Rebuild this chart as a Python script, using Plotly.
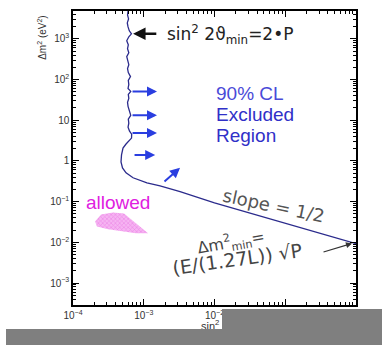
import numpy as np
import plotly.graph_objects as go

# Exclusion contour (sin^2 2theta, delta m^2 in eV^2)
sin2 = [6.00e-4, 5.90e-4, 6.10e-4, 5.85e-4, 6.00e-4, 6.25e-4, 6.70e-4, 6.15e-4, 5.75e-4,
        6.05e-4, 5.90e-4, 6.15e-4, 5.75e-4, 6.00e-4, 6.15e-4, 5.90e-4, 6.05e-4, 6.50e-4,
        6.05e-4, 6.15e-4, 6.00e-4, 6.55e-4, 6.05e-4, 6.15e-4, 5.90e-4, 6.00e-4, 6.30e-4,
        6.55e-4, 6.05e-4, 6.15e-4, 6.00e-4, 6.30e-4, 6.75e-4, 6.72e-4, 5.62e-4, 5.09e-4,
        4.85e-4, 4.77e-4, 5.01e-4, 5.62e-4, 7.06e-4, 1.11e-3, 1.70e-3, 3.26e-3, 1.0e-2,
        2.3e-2, 0.10, 0.312, 1.0]
dm2 = [4820, 3850, 3080, 2455, 1960, 1570, 1325, 1120, 894,
       714, 570, 456, 364, 291, 232, 185, 148, 118,
       94.6, 75.5, 60.3, 51.0, 43.1, 34.4, 27.5, 21.9, 17.5,
       13.2, 10.6, 8.45, 6.75, 5.39, 4.56, 3.64, 2.60, 2.07,
       1.40, 0.946, 0.675, 0.509, 0.385, 0.290, 0.245, 0.175, 0.093,
       0.0613, 0.0294, 0.01665, 0.0093]

# Allowed island
allowed_sin2 = [2.05e-4, 2.49e-4, 3.68e-4, 5.26e-4, 1.15e-3, 7.78e-4, 3.13e-4, 2.18e-4, 2.05e-4]
allowed_dm2 = [0.0325, 0.0482, 0.054, 0.051, 0.0166, 0.0166, 0.0208, 0.0245, 0.0325]

# Blue "excluded" arrows: (x_tail, y_tail, x_head, y_head)
excl_arrows = [
    (6.61e-4, 51.0, 1.54e-3, 51.0),
    (6.61e-4, 13.2, 1.54e-3, 13.2),
    (6.61e-4, 4.82, 1.54e-3, 4.82),
    (7.06e-4, 1.40, 1.45e-3, 1.40),
    (1.87e-3, 0.290, 3.26e-3, 0.675),
]

xtick_vals = [1e-4, 1e-3, 1e-2, 1e-1, 1]
xtick_text = ["10<sup>−4</sup>", "10<sup>−3</sup>", "10<sup>−2</sup>", "10<sup>−1</sup>", "1"]
ytick_vals = [1e-3, 1e-2, 1e-1, 1, 10, 100, 1000]
ytick_text = ["10<sup>−3</sup>", "10<sup>−2</sup>", "10<sup>−1</sup>", "1", "10",
              "10<sup>2</sup>", "10<sup>3</sup>"]

W, H = 382, 345
L, R, T, B = 73, 26, 9, 40


def paper(px, py):
    return (px - L) / (W - L - R), (H - B - py) / (H - T - B)


def minor_vals(lo, hi):
    return [m * 10.0 ** d for d in range(lo, hi) for m in range(2, 10)]


fig = go.Figure()

fig.add_trace(go.Scatter(
    x=allowed_sin2, y=allowed_dm2, mode="lines", fill="toself",
    fillcolor="#f3a6ee",
    fillpattern=dict(shape="x", fgcolor="#e258dc", bgcolor="#f6b4f2", size=3, solidity=0.35),
    line=dict(width=0), hoverinfo="skip", showlegend=False))

fig.add_trace(go.Scatter(
    x=sin2, y=dm2, mode="lines", line=dict(color="#2b2b8c", width=1.3),
    showlegend=False, hoverinfo="skip"))

font_main = "Liberation Sans, Arial, sans-serif"
font_hand = "DejaVu Sans, sans-serif"
ann = []

for xt, yt, xh, yh in excl_arrows:
    ann.append(dict(x=np.log10(xh), y=np.log10(yh), ax=np.log10(xt), ay=np.log10(yt),
                    xref="x", yref="y", axref="x", ayref="y", text="", showarrow=True,
                    arrowhead=2, arrowsize=1.0, arrowwidth=2, arrowcolor="#2a3ee0"))

# Arrow from the sin^2 label to the vertical edge of the contour
ann.append(dict(x=np.log10(7.06e-4), y=np.log10(1325), ax=np.log10(1.58e-3), ay=np.log10(1325),
                xref="x", yref="y", axref="x", ayref="y", text="", showarrow=True,
                arrowhead=2, arrowsize=1.0, arrowwidth=2.5, arrowcolor="#111111"))

# Arrow pointing at the low-dm2 end
tipx, tipy = paper(352, 243)
ann.append(dict(x=tipx, y=tipy, ax=-30, ay=9, xref="paper", yref="paper",
                axref="pixel", ayref="pixel", text="", showarrow=True,
                arrowhead=2, arrowsize=1.0, arrowwidth=1.2, arrowcolor="#333333"))


def label(text, px, py, size, color, angle=0, xanchor="center", family=font_main):
    x, y = paper(px, py)
    ann.append(dict(x=x, y=y, xref="paper", yref="paper", text=text, showarrow=False,
                    xanchor=xanchor, yanchor="middle", textangle=angle,
                    font=dict(size=size, color=color, family=family)))


label("sin<sup>2</sup> 2ϑ<sub>min</sub>=2•P", 165, 33, 17, "#222222", xanchor="left",
      family=font_hand)
label("90% CL", 214, 92, 19, "#4a4ad8", xanchor="left")
label("Excluded", 214, 113, 19, "#3030c8", xanchor="left")
label("Region", 214, 134, 19, "#3030c8", xanchor="left")
label("allowed", 84, 202, 19, "#e020e0", xanchor="left")
label("slope = 1/2", 273, 205, 18, "#555555", angle=12, family=font_hand)
label("Δm<sup>2</sup><sub>min</sub>=", 231, 242, 16, "#444444", angle=-10, family=font_hand)
label("(E/(1.27L)) √P", 237, 259, 19, "#444444", angle=-8, family=font_hand)
label("Δm<sup>2</sup> (eV<sup>2</sup>)", 42, 36, 10, "#333333", angle=-90)
label("sin<sup>2</sup> 2ϑ", 218, 325, 11, "#333333")

# Grey cover bars along the bottom (drawn last so they sit on top)
cover_boxes = [(222, 309, 382, 350), (222, 318, 382, 350), (6, 329, 382, 350)]
for x0p, y0p, x1p, y1p in cover_boxes:
    a, d = paper(x0p, y0p)
    ann.append(dict(x=a, y=d, xref="paper", yref="paper", xanchor="left", yanchor="top",
                    text=" ", showarrow=False, width=x1p - x0p, height=y1p - y0p,
                    bgcolor="#7f7f7f", borderpad=0, borderwidth=0))

fig.update_layout(annotations=ann)

axis_common = dict(type="log", showgrid=False, zeroline=False, showline=True,
                   linecolor="black", linewidth=1.5, mirror="ticks", ticks="inside",
                   ticklen=6, tickwidth=1.3, tickcolor="black",
                   tickfont=dict(size=10, color="#333333", family=font_main))

fig.update_xaxes(range=[-4, 0], tickmode="array", tickvals=xtick_vals, ticktext=xtick_text,
                 minor=dict(tickmode="array", tickvals=minor_vals(-4, 0), ticks="inside",
                            ticklen=3, tickcolor="black", showgrid=False),
                 **axis_common)
fig.update_yaxes(range=[-3.54, 3.683], tickmode="array", tickvals=ytick_vals, ticktext=ytick_text,
                 minor=dict(tickmode="array", tickvals=minor_vals(-4, 4), ticks="inside",
                            ticklen=3, tickcolor="black", showgrid=False),
                 **axis_common)

fig.update_layout(width=W, height=H, margin=dict(l=L, r=R, t=T, b=B),
                  plot_bgcolor="white", paper_bgcolor="white", showlegend=False)

fig.write_html("out.html")
